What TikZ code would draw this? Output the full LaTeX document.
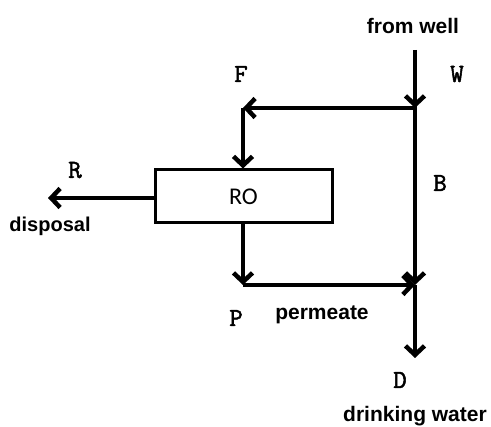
\documentclass[tikz,border=0pt]{standalone}
\usepackage{fontspec}
\setmainfont{Liberation Sans}
\newfontfamily\monof[FakeBold=2]{Latin Modern Mono}
\newfontfamily\calf{Carlito}
\usetikzlibrary{arrows.meta}
\tikzset{
  flow/.style={line width=4.5pt, -{Straight Barb[length=9pt,width=19pt]}},
  letter/.style={font=\monof\fontsize{26}{26}\selectfont, inner sep=0pt},
  word/.style={font=\bfseries\fontsize{21}{21}\selectfont, inner sep=0pt},
  unit/.style={draw, line width=3pt, minimum width=177pt, minimum height=53pt, inner sep=0pt,
    font=\calf\fontsize{24}{24}\selectfont}
}
\begin{document}
\begin{tikzpicture}[x=1pt,y=-1pt]
\useasboundingbox[fill=white] (0,0) rectangle (491,427);
\node[unit] (ro) at (243.5,196.5) {RO};
\coordinate (top) at (415,50);
\coordinate (j1) at (415,108);
\coordinate (fc) at (243,108);
\coordinate (j2) at (415,285);
\coordinate (pc) at (243,285);
\coordinate (dend) at (415,358);
\coordinate (rend) at (48,198);
\draw[flow] (top) -- (j1);
\draw[flow, line cap=rect] (j1) -- (fc);
\draw[flow] (fc) -- (ro.north -| fc);
\draw[flow] (j1) -- (j2);
\draw[flow] (j2) -- (dend);
\draw[flow] (ro.south -| pc) -- (pc);
\draw[flow] (pc) -- (j2);
\draw[flow] (ro.west |- rend) -- (rend);
\node[word] (well) at (413,26) {from well};
\node[letter] (w) at (457,74) {W};
\node[letter] (f) at (241,74) {F};
\node[letter] (b) at (440,183) {B};
\node[letter] (r) at (75,170) {R};
\node[word, font=\bfseries\fontsize{20}{20}\selectfont] (disp) at (50,226) {disposal};
\node[letter] (p) at (236,318) {P};
\node[word] (perm) at (322,315) {permeate};
\node[letter] (d) at (400,380) {D};
\node[word] (drink) at (415,416) {drinking water};
\end{tikzpicture}
\end{document}
